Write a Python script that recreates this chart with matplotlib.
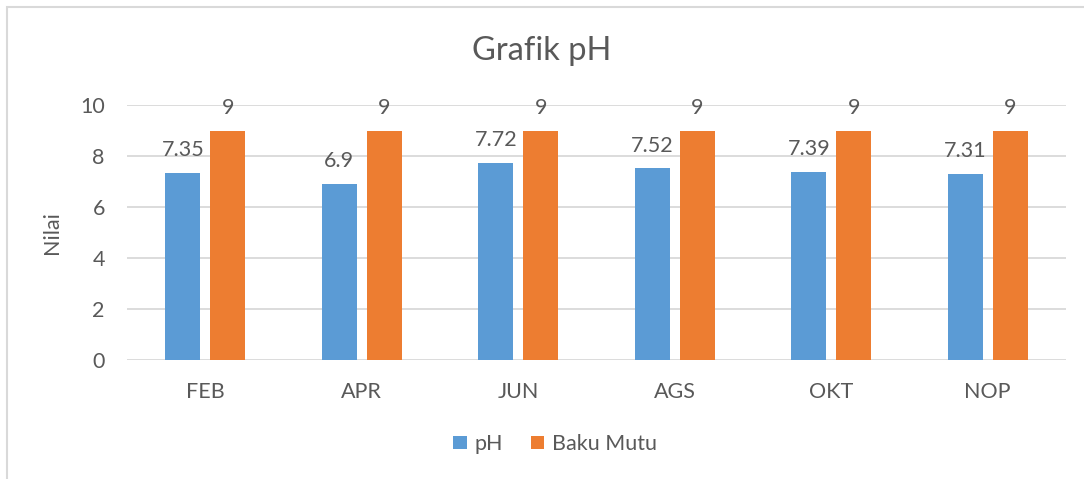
import numpy as np
import matplotlib.pyplot as plt
from matplotlib.patches import Rectangle

months = ["FEB", "APR", "JUN", "AGS", "OKT", "NOP"]
ph = [7.35, 6.9, 7.72, 7.52, 7.39, 7.31]
baku_mutu = [9, 9, 9, 9, 9, 9]

blue = "#5B9BD5"
orange = "#ED7D31"
txt = "#595959"
plt.rcParams['font.family'] = ['Lato', 'DejaVu Sans']

fig = plt.figure(figsize=(10.84, 4.79), dpi=100)
ax = fig.add_axes([127 / 1084, 1 - 360 / 479, 939 / 1084, 255 / 479])

x = np.arange(len(months))
w = 0.225
b1 = ax.bar(x - 0.143, ph, w, color=blue, label="pH", zorder=3)
b2 = ax.bar(x + 0.143, baku_mutu, w, color=orange, label="Baku Mutu", zorder=3)

for bars, vals in ((b1, ph), (b2, baku_mutu)):
    for r, v in zip(bars, vals):
        ax.annotate(f"{v:g}", (r.get_x() + r.get_width() / 2, v),
                    xytext=(0, 12), textcoords="offset points",
                    ha="center", va="baseline", fontsize=15.5, color=txt)

ax.set_xlim(-0.5, len(months) - 0.5)
ax.set_ylim(0, 10)
ax.set_yticks(np.arange(0, 11, 2))
ax.set_xticks(x)
ax.set_xticklabels(months)
ax.grid(axis="y", color="#D9D9D9", linewidth=1.3, zorder=0)
for s in ax.spines.values():
    s.set_visible(False)
ax.tick_params(axis="both", length=0, labelsize=15.5, colors=txt)
ax.tick_params(axis="x", pad=16)
ax.tick_params(axis="y", pad=16)
ax.set_ylabel("Nilai", fontsize=15.5, color=txt, labelpad=13)

fig.text(0.5, 1 - 51 / 479, "Grafik pH", ha="center", va="center",
         fontsize=23.5, color=txt)

fig.legend(loc="center", bbox_to_anchor=(555 / 1084, 1 - 444 / 479),
           ncol=2, frameon=False, fontsize=15.5, labelcolor=txt,
           handlelength=0.62, handleheight=0.6, handletextpad=0.35,
           columnspacing=1.3)

fig.patches.append(Rectangle((6.5 / 1084, -0.1), 1.2, 1 - 6.5 / 479 + 0.1,
                             transform=fig.transFigure, fill=False,
                             edgecolor="#D9D9D9", linewidth=1.5))

fig.savefig("out.png", dpi=100)
